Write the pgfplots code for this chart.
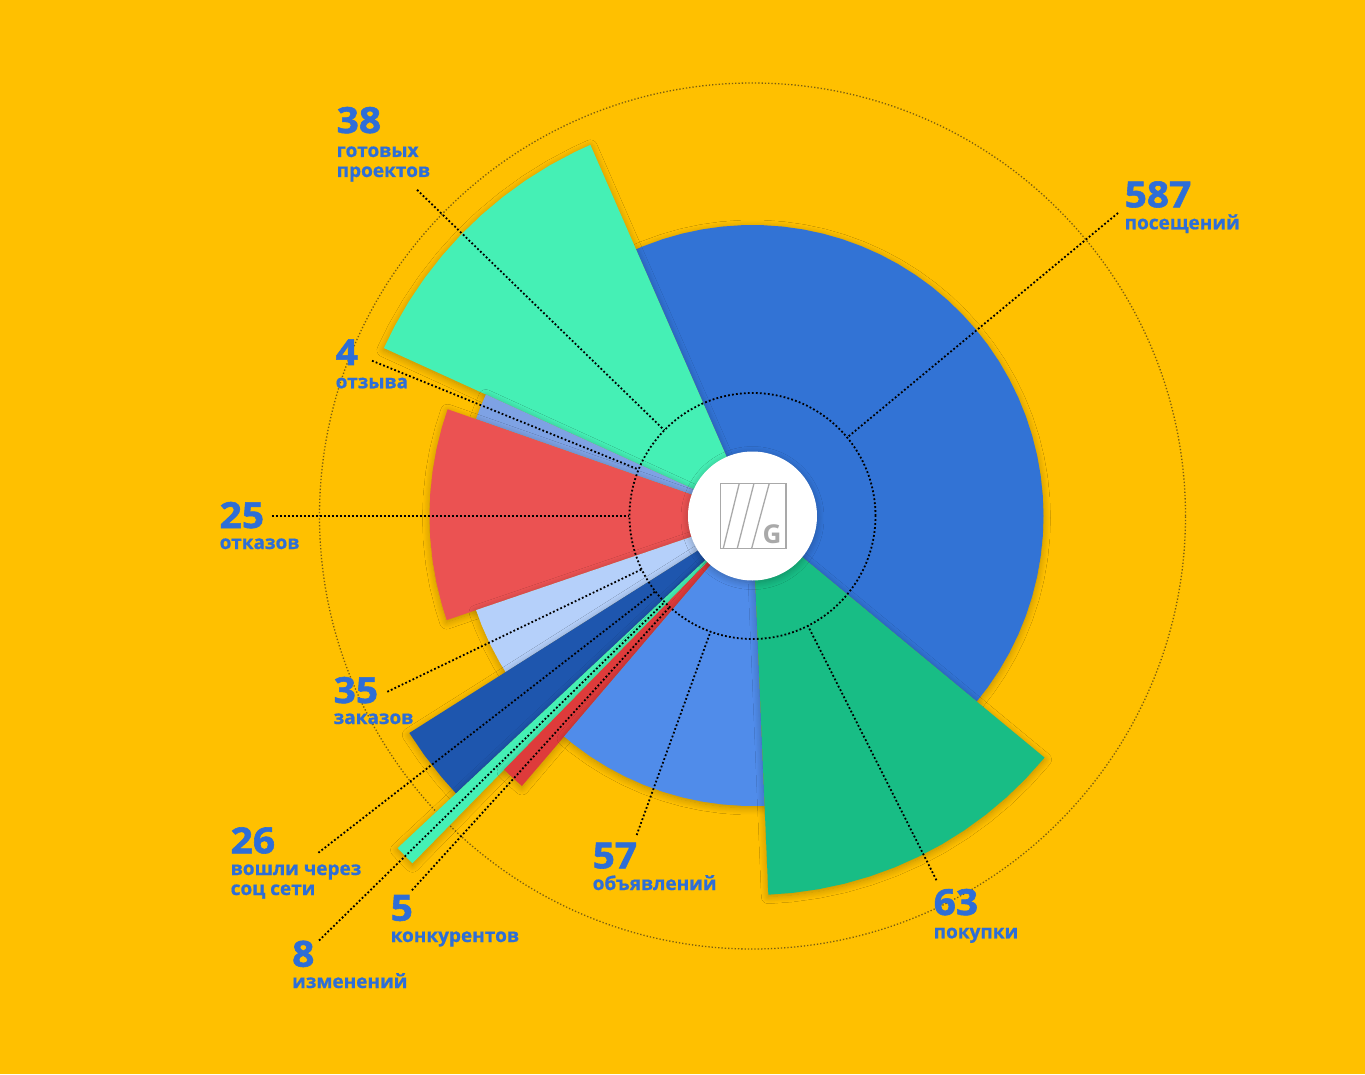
\documentclass[border=0pt]{standalone}
\usepackage{fontspec}
\setmainfont{Open Sans}
\newfontfamily\numfont{Open Sans}[BoldFeatures={FakeBold=1.6, FakeStretch=1.08}]
\newfontfamily\txtfont{Open Sans}[BoldFeatures={FakeBold=0.7}]
\usepackage{pgfplots}
\pgfplotsset{compat=1.18}
\usepgfplotslibrary{polar}
\usetikzlibrary{backgrounds,shadows.blur}
\definecolor{bg}{HTML}{FFC000}
\definecolor{cBlue}{HTML}{3273D5}
\definecolor{cTeal}{HTML}{45F0B5}
\definecolor{cLav}{HTML}{7EA2E4}
\definecolor{cRed}{HTML}{EB5252}
\definecolor{cLight}{HTML}{B5D0FA}
\definecolor{cDark}{HTML}{1E56AE}
\definecolor{cRedT}{HTML}{DE3B3B}
\definecolor{cMed}{HTML}{508CEA}
\definecolor{cGreen}{HTML}{18BD85}
\definecolor{lab}{HTML}{2E6ED7}
\definecolor{outerdot}{HTML}{7A5E10}
\definecolor{logo}{HTML}{A9A9A9}
\tikzset{
 myshadow/.style={blur shadow={shadow xshift=0pt, shadow yshift=-2pt, shadow blur radius=7pt, shadow opacity=26, shadow blur steps=10}},
 sec/.style={draw=none, fill=#1, myshadow},
 leader/.style={draw=black, line width=1.8pt, dash pattern=on 1.8pt off 2.2pt},
 num/.style={anchor=base west, inner sep=0pt, text=lab, font=\fontsize{36}{40}\numfont\bfseries},
 txt/.style={anchor=base west, inner sep=0pt, text=lab, font=\fontsize{19}{22}\txtfont\bfseries},
}
\begin{document}
\begin{tikzpicture}
\begin{polaraxis}[
  at={(0,0)}, anchor=center,
  hide axis, scale only axis, width=1000pt, height=1000pt,
  ymin=0, ymax=500, clip=false,
]
\coordinate (O) at (axis cs:0,0);
\draw[outerdot, line width=1.3pt, dash pattern=on 1.3pt off 2pt] (axis cs:0,0) circle[radius=433pt];
% 587 posescheniy
\addplot[sec=cBlue] coordinates {(-39.6,0) (-39.6,291) (-36,291) (-32,291) (-28,291) (-24,291) (-20,291) (-16,291) (-12,291) (-8,291) (-4,291) (0,291) (4,291) (8,291) (12,291) (16,291) (20,291) (24,291) (28,291) (32,291) (36,291) (40,291) (44,291) (48,291) (52,291) (56,291) (60,291) (64,291) (68,291) (72,291) (76,291) (80,291) (84,291) (88,291) (92,291) (96,291) (100,291) (104,291) (108,291) (112,291) (113.6,291) (113.6,0)};
% 38
\addplot[sec=cTeal] coordinates {(113.6,0) (113.6,405) (116,405) (120,405) (124,405) (128,405) (132,405) (136,405) (140,405) (144,405) (148,405) (152,405) (155.5,405) (155.5,0)};
% 4
\addplot[sec=cLav] coordinates {(155.5,0) (155.5,293) (158,293) (160.7,293) (160.7,0)};
% 25
\addplot[sec=cRed] coordinates {(160.7,0) (160.7,323) (164,323) (168,323) (172,323) (176,323) (180,323) (184,323) (188,323) (192,323) (196,323) (198.8,323) (198.8,0)};
% 35
\addplot[sec=cLight] coordinates {(198.8,0) (198.8,292) (202,292) (206,292) (210,292) (212.3,292) (212.3,0)};
% 26
\addplot[sec=cDark] coordinates {(212.3,0) (212.3,406) (216,406) (220,406) (223.1,406) (223.1,0)};
% 8
\addplot[sec=cTeal] coordinates {(223.1,0) (223.1,486) (224.4,486) (225.6,486) (225.6,0)};
% 5
\addplot[sec=cRedT] coordinates {(225.6,0) (225.6,355) (227.5,355) (229.5,355) (229.5,0)};
% 57
\addplot[sec=cMed] coordinates {(229.5,0) (229.5,290) (232,290) (236,290) (240,290) (244,290) (248,290) (252,290) (256,290) (260,290) (264,290) (268,290) (272,290) (272.4,290) (272.4,0)};
% 63
\addplot[sec=cGreen] coordinates {(272.4,0) (272.4,379) (276,379) (280,379) (284,379) (288,379) (292,379) (296,379) (300,379) (304,379) (308,379) (312,379) (316,379) (320,379) (320.4,379) (320.4,0)};
\draw[black, line width=1.8pt, dash pattern=on 1.8pt off 2.2pt] (axis cs:0,0) circle[radius=123pt];
% leader lines
\addplot[leader] coordinates {(135.8,467.8) (135.8,123)};
\addplot[leader] coordinates {(39.66,474.8) (39.66,123)};
\addplot[leader] coordinates {(157.8,410.9) (157.8,123)};
\addplot[leader] coordinates {(180,480.5) (180,123)};
\addplot[leader] coordinates {(205.7,405.3) (205.7,123)};
\addplot[leader] coordinates {(217.8,549.4) (217.8,123)};
\addplot[leader] coordinates {(224.4,606.7) (224.4,123)};
\addplot[leader] coordinates {(227.7,506) (227.7,123)};
\addplot[leader] coordinates {(250.05,339.4) (250.05,123)};
\addplot[leader] coordinates {(296.8,408) (296.8,123)};
\end{polaraxis}
\begin{scope}[shift={(O)}, x=1pt, y=1pt]
\fill[white, myshadow] (0,0) circle[radius=64.5];
\draw[logo, line width=1.3pt] (-31.8,32.7) rectangle (33.5,-32.3);
\draw[logo, line width=1.3pt] (-13.2,32.7) -- (-29.2,-32.3);
\draw[logo, line width=1.3pt] (1.5,32.7) -- (-15.2,-32.3);
\draw[logo, line width=1.3pt] (16.8,32.7) -- (-0.8,-32.3);
\node[text=logo, inner sep=0pt, font=\fontsize{26}{26}\selectfont\bfseries] at (19.5,-18) {G};
\node[num] at (-416,383) {38};
\node[txt] at (-416,359) {готовых};
\node[txt] at (-416,339) {проектов};
\node[num] at (372,308.7) {587};
\node[txt] at (372,286.7) {посещений};
\node[num] at (-417,151) {4};
\node[txt] at (-417,127.7) {отзыва};
\node[num] at (-533,-12) {25};
\node[txt] at (-533,-33) {отказов};
\node[num] at (-419,-187) {35};
\node[txt] at (-419,-208) {заказов};
\node[num] at (-522,-337.3) {26};
\node[txt] at (-522,-359) {вошли через};
\node[txt] at (-522,-379) {соц сети};
\node[num] at (-460.5,-450.7) {8};
\node[txt] at (-460.5,-472) {изменений};
\node[num] at (-362,-404.7) {5};
\node[txt] at (-362,-426) {конкурентов};
\node[num] at (-160,-352.3) {57};
\node[txt] at (-160,-374) {объявлений};
\node[num] at (181,-399) {63};
\node[txt] at (181,-422.3) {покупки};
\end{scope}
\begin{scope}[on background layer]
\fill[bg, shift={(O)}, x=1pt, y=1pt] (-752.5,516) rectangle (612.5,-558);
\end{scope}
\pgfresetboundingbox
\path[use as bounding box, shift={(O)}, x=1pt, y=1pt] (-752.5,516) rectangle (612.5,-558);
\end{tikzpicture}
\end{document}
